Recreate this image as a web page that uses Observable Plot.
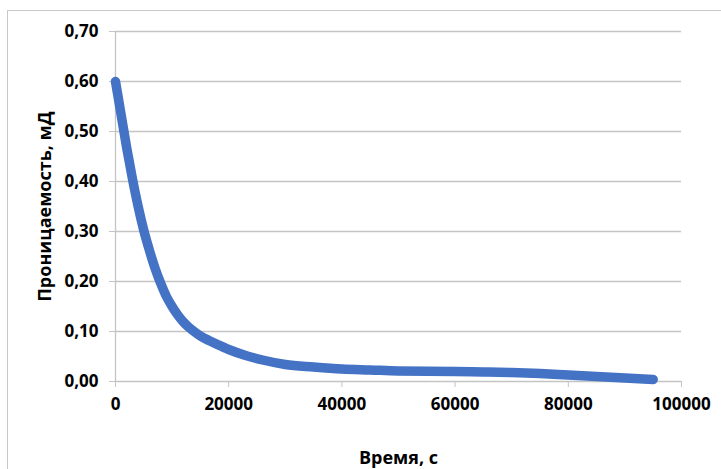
<!DOCTYPE html>
<html>
<head>
<meta charset="utf-8">
<script src="https://cdn.jsdelivr.net/npm/d3@7"></script>
<script src="https://cdn.jsdelivr.net/npm/@observablehq/plot@0.6"></script>
<style>
  html, body { margin: 0; padding: 0; background: #fff; }
  #wrap { position: relative; width: 721px; height: 469px; overflow: hidden; }
  #border { position: absolute; left: 7px; top: 10px; width: 800px; height: 600px; border: 1px solid #c8c8c8; box-sizing: border-box; }
  #chart { position: absolute; left: 0; top: 0; }
</style>
</head>
<body>
<div id="wrap"><div id="border"></div><div id="chart"></div></div>
<script>
// Time, s
const time = [0, 1000, 2000, 3000, 4000, 5000, 6000, 7000, 8000, 9000, 10000, 11000, 12000, 13000, 14000, 15000, 16500, 18000, 20000, 23000, 26000, 30000, 35000, 40000, 45000, 50000, 55000, 60000, 65000, 70000, 75000, 80000, 85000, 90000, 95000];
// Permeability, mD
const permeability = [0.600, 0.533, 0.466, 0.405, 0.350, 0.302, 0.262, 0.226, 0.196, 0.170, 0.150, 0.133, 0.119, 0.108, 0.099, 0.091, 0.082, 0.074, 0.064, 0.052, 0.043, 0.034, 0.029, 0.025, 0.023, 0.021, 0.0205, 0.020, 0.019, 0.018, 0.016, 0.013, 0.010, 0.007, 0.004];
const xTicks = [0, 20000, 40000, 60000, 80000, 100000];
const yTicks = [0, 0.1, 0.2, 0.3, 0.4, 0.5, 0.6, 0.7];
const xTitle = "Время, с";
const yTitle = "Проницаемость, мД";

const data = time.map((t, i) => ({t, k: permeability[i]}));
const fmtY = d => d3.format(".2f")(d).replace(".", ",");

const chart = Plot.plot({
  width: 721,
  height: 469,
  marginLeft: 115,
  marginRight: 40,
  marginTop: 31,
  marginBottom: 88,
  style: {fontFamily: "'Open Sans', sans-serif", fontSize: "17px", fontWeight: "bold", color: "#000", background: "transparent"},
  x: {domain: [0, 100000]},
  y: {domain: [0, 0.7]},
  marks: [
    Plot.gridY(yTicks.filter(d => d > 0), {stroke: "#c4c4c4", strokeOpacity: 1, strokeWidth: 1.3}),
    Plot.ruleY([0], {stroke: "#c4c4c4", strokeWidth: 1.3}),
    Plot.ruleX([0], {stroke: "#c4c4c4", strokeWidth: 1.3}),
    Plot.axisY({ticks: yTicks, tickFormat: fmtY, tickSize: 6, tickPadding: 11, stroke: "#c4c4c4", label: null, fill: "#000"}),
    Plot.axisX({ticks: xTicks, tickFormat: d => String(d), tickSize: 6, tickPadding: 10, stroke: "#c4c4c4", label: null, fill: "#000"}),
    Plot.line(data, {x: "t", y: "k", stroke: "#4472C4", strokeWidth: 9.5, strokeLinecap: "round", strokeLinejoin: "round", curve: "monotone-x"}),
    Plot.text([xTitle], {frameAnchor: "bottom", dy: 77, text: d => d, textAnchor: "middle", lineAnchor: "middle", fontSize: 18, fontWeight: "bold", fill: "#000"}),
    Plot.text([yTitle], {frameAnchor: "left", dx: -70, rotate: -90, text: d => d, textAnchor: "middle", lineAnchor: "middle", fontSize: 18, fontWeight: "bold", fill: "#000"})
  ]
});
document.getElementById("chart").appendChild(chart);
</script>
</body>
</html>
